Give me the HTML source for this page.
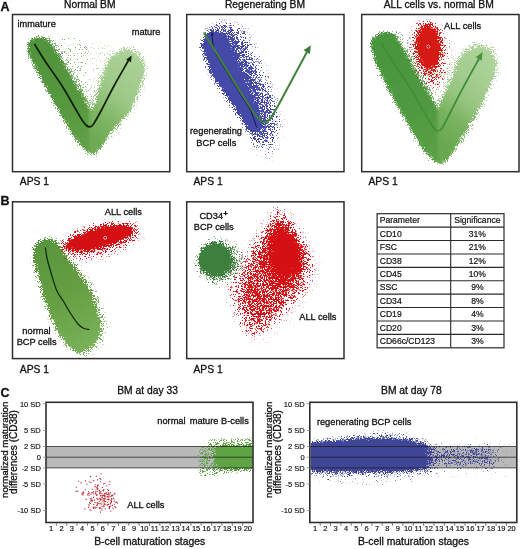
<!DOCTYPE html>
<html lang="en"><head><meta charset="utf-8"><title>Figure</title>
<style>html,body{margin:0;padding:0;background:#fff}svg{display:block}text{font-family:"Liberation Sans", Arial, Helvetica, sans-serif}</style></head>
<body>
<svg width="520" height="549" viewBox="0 0 520 549">
<rect width="520" height="549" fill="#fff"/>
<defs>
<filter id="fu" filterUnits="userSpaceOnUse" x="0" y="0" width="520" height="549" color-interpolation-filters="sRGB"><feGaussianBlur in="SourceGraphic" stdDeviation="0.7" result="b"/><feTurbulence type="fractalNoise" baseFrequency="2.43" numOctaves="1" seed="3" result="n"/><feColorMatrix in="n" type="matrix" values="0 0 0 0 1  0 0 0 0 1  0 0 0 0 1  0 0 0 1 0"/><feComponentTransfer result="na"><feFuncA type="table" tableValues="0 0 0 0.001 0.025 0.112 0.276 0.526 0.78 0.914 0.983 0.998 1 1 1"/></feComponentTransfer><feComposite in="b" in2="na" operator="arithmetic" k1="0" k2="8" k3="7" k4="-7"/></filter>
<filter id="fd" filterUnits="userSpaceOnUse" x="0" y="0" width="520" height="549" color-interpolation-filters="sRGB"><feGaussianBlur in="SourceGraphic" stdDeviation="0.8" result="b"/><feTurbulence type="fractalNoise" baseFrequency="2.37" numOctaves="1" seed="2" result="n"/><feColorMatrix in="n" type="matrix" values="0 0 0 0 1  0 0 0 0 1  0 0 0 0 1  0 0 0 1 0" result="na"/><feComposite in="b" in2="na" operator="arithmetic" k1="0" k2="6" k3="7.2" k4="-6.1"/></filter>
<filter id="fd2" filterUnits="userSpaceOnUse" x="0" y="0" width="520" height="549" color-interpolation-filters="sRGB"><feGaussianBlur in="SourceGraphic" stdDeviation="0.8" result="b"/><feTurbulence type="fractalNoise" baseFrequency="2.71" numOctaves="1" seed="7" result="n"/><feColorMatrix in="n" type="matrix" values="0 0 0 0 1  0 0 0 0 1  0 0 0 0 1  0 0 0 1 0" result="na"/><feComposite in="b" in2="na" operator="arithmetic" k1="0" k2="6" k3="7.2" k4="-6.1"/></filter>
<filter id="fdh" filterUnits="userSpaceOnUse" x="0" y="0" width="520" height="549" color-interpolation-filters="sRGB"><feGaussianBlur in="SourceGraphic" stdDeviation="0.6" result="b"/><feTurbulence type="fractalNoise" baseFrequency="2.53" numOctaves="1" seed="5" result="n"/><feColorMatrix in="n" type="matrix" values="0 0 0 0 1  0 0 0 0 1  0 0 0 0 1  0 0 0 1 0" result="na"/><feComposite in="b" in2="na" operator="arithmetic" k1="0" k2="16" k3="20.8" k4="-17.9"/></filter>
<filter id="b1" filterUnits="userSpaceOnUse" x="0" y="0" width="520" height="549"><feGaussianBlur stdDeviation="1"/></filter>
<filter id="b1_5" filterUnits="userSpaceOnUse" x="0" y="0" width="520" height="549"><feGaussianBlur stdDeviation="1.5"/></filter>
<filter id="b2" filterUnits="userSpaceOnUse" x="0" y="0" width="520" height="549"><feGaussianBlur stdDeviation="2"/></filter>
<filter id="b3" filterUnits="userSpaceOnUse" x="0" y="0" width="520" height="549"><feGaussianBlur stdDeviation="3"/></filter>
<filter id="b4" filterUnits="userSpaceOnUse" x="0" y="0" width="520" height="549"><feGaussianBlur stdDeviation="4"/></filter>
<filter id="b5" filterUnits="userSpaceOnUse" x="0" y="0" width="520" height="549"><feGaussianBlur stdDeviation="5"/></filter>
<filter id="b6" filterUnits="userSpaceOnUse" x="0" y="0" width="520" height="549"><feGaussianBlur stdDeviation="6"/></filter>
<filter id="b8" filterUnits="userSpaceOnUse" x="0" y="0" width="520" height="549"><feGaussianBlur stdDeviation="8"/></filter>
<filter id="b10" filterUnits="userSpaceOnUse" x="0" y="0" width="520" height="549"><feGaussianBlur stdDeviation="10"/></filter>
<linearGradient id="gA1" gradientUnits="userSpaceOnUse" x1="36" y1="40" x2="90" y2="150"><stop offset="0" stop-color="#50933b"/><stop offset="0.6" stop-color="#56983e"/><stop offset="1" stop-color="#62a147"/></linearGradient>
<linearGradient id="gA1r" gradientUnits="userSpaceOnUse" x1="86" y1="134" x2="140" y2="58"><stop offset="0" stop-color="#6daa52"/><stop offset="0.25" stop-color="#7db562"/><stop offset="0.5" stop-color="#9ac783"/><stop offset="0.75" stop-color="#a4cd8f"/><stop offset="1" stop-color="#acd298"/></linearGradient>
<mask id="mA1h" maskUnits="userSpaceOnUse" x="13" y="15" width="156.5" height="156"><g filter="url(#fdh)"><polygon points="37.5,37.5 43.6,38.3 49.6,43 58.8,56.5 68,71.8 80.3,93.2 90.3,111.5 95.4,107 104.6,76 110.8,59.2 118.5,55 126,50.5 133.5,52.5 139.5,58.5 143.5,65.4 142.6,76 130.5,107 111.5,129.6 100.8,146.5 93,155 85.5,150 74,135.8 49,92 38,71.2 30.3,55.8 28,46.5 30.4,41" fill="#fff" stroke="#fff" stroke-width="9" stroke-opacity="0.24" stroke-linejoin="round" filter="url(#b3)"/><polygon points="48,32 120,40 99,98 90,108" fill="#fff" fill-opacity="0.28" filter="url(#b5)"/><polygon points="44,36 52,38 62,52 73,69 86,92 92,106 86,108 80,93 68,72 58,56 49,43" fill="#fff" fill-opacity="0.2" filter="url(#b3)"/></g></mask>
<mask id="mA1" maskUnits="userSpaceOnUse" x="13" y="15" width="156.5" height="156"><g filter="url(#fu)"><polygon points="97,108 106,77 112.5,60 119,54.5 126,50 133.5,52 139,58 142.5,66 141.5,76 129.5,107 111,129 100,134 93,124" fill="#fff" stroke="#fff" stroke-width="2" filter="url(#b4)"/><polygon points="37.5,37.5 43.6,38.3 49.6,43 58.8,56.5 68,71.8 80.3,93.2 90.3,111.5 95.4,107 104.6,76 110.8,59.2 118.5,55 126,50.5 133.5,52.5 139.5,58.5 143.5,65.4 142.6,76 130.5,107 111.5,129.6 100.8,146.5 93,155 85.5,150 74,135.8 49,92 38,71.2 30.3,55.8 28,46.5 30.4,41" fill="#fff" filter="url(#b1_5)"/></g></mask>
<mask id="mA2" maskUnits="userSpaceOnUse" x="187.2" y="15" width="156" height="156"><g filter="url(#fu)"><polygon points="220,20 238,22 251,30 258,44 263,58 268,71 273.5,82 279,96 284,114 284,134 275,154 264,164 256,150 252,128 236,100 222,75 212,50 210,36" fill="#fff" fill-opacity="0.12" filter="url(#b5)"/><polygon points="214,27 227,27.5 238,34 244.5,47 249.5,61 255,74 260.5,85 266,99 270.5,115 270.5,129 265,141 259,147 252,128 236,100 222,75 212,50 210,36" fill="#fff" fill-opacity="0.75" filter="url(#b6)"/><polygon points="211,32.5 216.5,32 222,33.5 228.5,40 233,52 237.5,66 243,79 248.5,90 254,104 259.5,118 260.5,127 258,133 253,131.5 248.5,128.6 241.5,117 234,105.5 226,95.4 219.8,86 211,72.3 205.2,57.3 201.8,44.6 204,38" fill="#fff" stroke="#fff" stroke-width="6" stroke-opacity="0.3" stroke-linejoin="round" filter="url(#b1_5)"/></g></mask>
<linearGradient id="gA3" gradientUnits="userSpaceOnUse" x1="380" y1="40" x2="438" y2="155"><stop offset="0" stop-color="#48953d"/><stop offset="0.6" stop-color="#4f993f"/><stop offset="1" stop-color="#5aa045"/></linearGradient>
<linearGradient id="gA3r" gradientUnits="userSpaceOnUse" x1="434" y1="140" x2="492" y2="58"><stop offset="0" stop-color="#68a84f"/><stop offset="0.28" stop-color="#78b25e"/><stop offset="0.5" stop-color="#96c580"/><stop offset="0.72" stop-color="#a4cd8f"/><stop offset="1" stop-color="#aed39a"/></linearGradient>
<mask id="mA3h" maskUnits="userSpaceOnUse" x="362.2" y="15" width="156" height="156"><g filter="url(#fdh)"><polygon points="381,33 391.4,33 396,38.5 416.5,74.5 429,95.3 437.5,110 446.5,95.3 459.8,62 470,51 480.2,47 489.5,52 494.8,61 494.3,71 482,100.5 478.5,107 457.7,141.7 448.5,157.8 441.5,163.6 434,160 423,148.6 400,109.4 388,86.7 376,62 371.5,45.1 372.4,40" fill="#fff" stroke="#fff" stroke-width="9" stroke-opacity="0.24" stroke-linejoin="round" filter="url(#b3)"/><polygon points="394,28 470,38 449,92 438,104" fill="#fff" fill-opacity="0.28" filter="url(#b5)"/><polygon points="390,31 399,34 410,50 422,72 434,94 440,106 433,108 427,95 414,74 402,54 395,40" fill="#fff" fill-opacity="0.2" filter="url(#b3)"/></g></mask>
<mask id="mA3" maskUnits="userSpaceOnUse" x="362.2" y="15" width="156" height="156"><g filter="url(#fu)"><polygon points="447.5,96 460,60.5 470.3,49.5 480.2,45.5 489.5,50.5 494.6,60 494,71 481,100.5 477.5,107 457,141 446,146 439,128" fill="#fff" stroke="#fff" stroke-width="2" filter="url(#b4)"/><polygon points="381,33 391.4,33 396,38.5 416.5,74.5 429,95.3 437.5,110 446.5,95.3 459.8,62 470,51 480.2,47 489.5,52 494.8,61 494.3,71 482,100.5 478.5,107 457.7,141.7 448.5,157.8 441.5,163.6 434,160 423,148.6 400,109.4 388,86.7 376,62 371.5,45.1 372.4,40" fill="#fff" filter="url(#b1_5)"/></g></mask>
<mask id="mA3r" maskUnits="userSpaceOnUse" x="362.2" y="15" width="156" height="156"><g filter="url(#fu)"><g filter="url(#b5)"><ellipse cx="429.5" cy="54" rx="21" ry="36" fill="#fff" fill-opacity="0.1" transform="rotate(-6 429 52)"/></g><g filter="url(#b4)"><ellipse cx="428.8" cy="49" rx="15" ry="27" fill="#fff" fill-opacity="0.4" transform="rotate(-6 428.5 48)"/></g><ellipse cx="432.5" cy="76" rx="8" ry="13" fill="#fff" fill-opacity="0.22" filter="url(#b4)"/><g filter="url(#b2)"><ellipse cx="428.3" cy="46.5" rx="12" ry="22" fill="#fff" transform="rotate(-6 428.3 46.5)"/></g></g></mask>
<linearGradient id="gB1" gradientUnits="userSpaceOnUse" x1="40" y1="245" x2="95" y2="340"><stop offset="0" stop-color="#58963d"/><stop offset="0.5" stop-color="#669e42"/><stop offset="1" stop-color="#78b058"/></linearGradient>
<mask id="mB1" maskUnits="userSpaceOnUse" x="13" y="202.3" width="156.5" height="155.8"><g filter="url(#fu)"><polygon points="44.5,241.5 50,241.3 55.8,244 65,257.7 75.5,273 89,291.5 94.5,308 99.3,325 97.5,335 93,342 86,349 79.3,352 74.5,348.5 71,345 63,336 54.5,320 47,300 44.5,293 40.4,276 36.5,260 35.8,250 38.5,244.5" fill="#fff" stroke="#fff" stroke-width="12" stroke-opacity="0.06" stroke-linejoin="round" filter="url(#b3)"/><polygon points="60,244 72,258 84,274 97,291 104,308 107.5,326 105,340 97,350 88,356 84,346 94,326 90,306 82,288 68,266" fill="#fff" fill-opacity="0.22" filter="url(#b3)"/><polygon points="44.5,241.5 50,241.3 55.8,244 65,257.7 75.5,273 89,291.5 94.5,308 99.3,325 97.5,335 93,342 86,349 79.3,352 74.5,348.5 71,345 63,336 54.5,320 47,300 44.5,293 40.4,276 36.5,260 35.8,250 38.5,244.5" fill="#fff" stroke="#fff" stroke-width="4" stroke-opacity="0.45" stroke-linejoin="round" filter="url(#b2)"/><polygon points="44.5,241.5 50,241.3 55.8,244 65,257.7 75.5,273 89,291.5 94.5,308 99.3,325 97.5,335 93,342 86,349 79.3,352 74.5,348.5 71,345 63,336 54.5,320 47,300 44.5,293 40.4,276 36.5,260 35.8,250 38.5,244.5" fill="#fff" filter="url(#b1)"/></g></mask>
<mask id="mB1r" maskUnits="userSpaceOnUse" x="13" y="202.3" width="156.5" height="155.8"><g filter="url(#fu)"><g filter="url(#b5)"><ellipse transform="translate(99.5 237.8) rotate(-14.5)" cx="0" cy="4" rx="46" ry="20" fill="#fff" fill-opacity="0.07"/></g><g filter="url(#b4)"><ellipse transform="translate(99.5 237.8) rotate(-14.5)" cx="-1" cy="3" rx="38" ry="13" fill="#fff" fill-opacity="0.3"/></g><g filter="url(#b3)"><path transform="translate(99.5 237.8) rotate(-14.5)" d="M-35.5,0 C-26.625,-11.25 24.849999999999998,-13.049999999999999 35.5,0 C24.849999999999998,13.049999999999999 -26.625,11.25 -35.5,0Z" fill="#fff" fill-opacity="0.5" stroke="#fff" stroke-width="4" stroke-opacity="0.5" stroke-linejoin="round"/></g><g filter="url(#b1_5)"><path transform="translate(99.5 237.8) rotate(-14.5)" d="M-35.5,0 C-26.625,-11.25 24.849999999999998,-13.049999999999999 35.5,0 C24.849999999999998,13.049999999999999 -26.625,11.25 -35.5,0Z" fill="#fff"/></g></g></mask>
<radialGradient id="rgG" gradientUnits="userSpaceOnUse" cx="215" cy="259.5" r="18.5"><stop offset="0" stop-color="#fff" stop-opacity="1"/><stop offset="0.66" stop-color="#fff" stop-opacity="1"/><stop offset="0.8" stop-color="#fff" stop-opacity="0.5"/><stop offset="1" stop-color="#fff" stop-opacity="0"/></radialGradient>
<radialGradient id="rgGh" gradientUnits="userSpaceOnUse" cx="219.5" cy="261.5" r="27"><stop offset="0" stop-color="#fff" stop-opacity="0.6"/><stop offset="0.5" stop-color="#fff" stop-opacity="0.55"/><stop offset="0.7" stop-color="#fff" stop-opacity="0.44"/><stop offset="0.86" stop-color="#fff" stop-opacity="0.33"/><stop offset="1" stop-color="#fff" stop-opacity="0.12"/></radialGradient>
<mask id="mB2g" maskUnits="userSpaceOnUse" x="187.2" y="202.3" width="156" height="155.8"><g filter="url(#fd)"><ellipse cx="219.5" cy="261.5" rx="27" ry="27" fill="url(#rgGh)"/><circle cx="215" cy="259.5" r="18.5" fill="url(#rgG)"/></g></mask>
<mask id="mB2r" maskUnits="userSpaceOnUse" x="187.2" y="202.3" width="156" height="155.8"><g filter="url(#fu)"><polygon points="279,200 294,212 308,230 320,256 322,276 312,300 294,322 270,342 254,346 240,336 230,316 222,292 228,270 242,244 256,222 268,206" fill="#fff" fill-opacity="0.06" filter="url(#b5)"/><polygon points="279.3,212 287,220 294.7,230.7 305.5,255 310,264.5 304,286 288.5,304.5 267,326 256.2,332 248,329 242.4,320 233.2,292 236,282 242.4,273.8 257.8,243 270,224.5" fill="#fff" fill-opacity="0.24" stroke="#fff" stroke-width="4" stroke-opacity="0.24" stroke-linejoin="round" filter="url(#b4)"/><polygon points="279.5,218 290,231 300,254 304,265 299,283 285,301 265,320 256,325 249,318 240,293 246,277 261,247 272,229" fill="#fff" fill-opacity="0.5" filter="url(#b4)"/><polygon points="279.5,221 291,233 301,253 303,264 297,276 285,284 274,282 266,270 264,256 268,241 274,229" fill="#fff" fill-opacity="0.55" filter="url(#b3)"/><polygon points="281,225 292,235 300,247 302.5,258 297,269 287,276 277,274 270.5,264 269.5,251 273.5,238" fill="#fff" filter="url(#b4)"/></g></mask>
<mask id="mCL" maskUnits="userSpaceOnUse" x="46.8" y="403.3" width="205.5" height="118.19999999999999"><g filter="url(#fu)"><polygon points="209.0,440.1 236.0,438.5 261.0,438.0 261.0,446.5 209.0,446.5" fill="#fff" fill-opacity="0.32" filter="url(#b1_5)"/><polygon points="200.0,467.3 261.0,467.3 261.0,470.8 236.0,472.2 220.0,474.8 200.0,475.4" fill="#fff" fill-opacity="0.34" filter="url(#b1_5)"/><polygon points="200.0,446.0 220.0,446.0 220.0,467.9 200.0,467.9" fill="#fff" fill-opacity="0.42" filter="url(#b3)"/><polygon points="161.0,448.7 204.0,448.7 204.0,465.7 161.0,465.7" fill="#fff" fill-opacity="0.02"/><polygon points="215.5,445.2 261.0,444.7 261.0,468.7 215.5,468.4" fill="#fff" filter="url(#b1_5)"/></g></mask>
<mask id="mCR" maskUnits="userSpaceOnUse" x="310.6" y="403.3" width="205.49999999999994" height="118.19999999999999"><g filter="url(#fd)"><polygon points="309.8,438.0 334.8,433.7 359.8,430.5 389.8,428.9 409.8,431.6 425.8,435.8 432.8,441.2 432.8,475.4 409.8,482.8 369.8,487.1 334.8,486.0 309.8,481.8" fill="#fff" fill-opacity="0.26" filter="url(#b2)"/><polygon points="309.8,441.2 334.8,438.0 359.8,435.3 389.8,434.2 409.8,436.9 421.8,440.6 427.8,444.4 427.8,470.6 409.8,474.3 369.8,475.9 334.8,475.4 309.8,474.3" fill="#fff" fill-opacity="0.3" filter="url(#b1_5)"/><polygon points="309.8,444.4 334.8,442.2 359.8,440.4 389.8,439.6 407.8,441.7 418.8,444.4 424.3,447.1 424.3,467.3 409.8,469.2 369.8,470.6 334.8,470.3 309.8,469.5" fill="#fff" filter="url(#b1_5)"/><rect x="423.8" y="447.1" width="72" height="18.7" fill="#fff" fill-opacity="0.31" filter="url(#b2)"/><rect x="423.8" y="440.1" width="88" height="38.4" fill="#fff" fill-opacity="0.225" filter="url(#b3)"/></g></mask>
</defs>
<g mask="url(#mA1h)"><g opacity="0.72"><g filter="url(#b1_5)"><rect x="0" y="0" width="200" height="200" fill="url(#gA1r)"/><rect x="0" y="0" width="89" height="200" fill="url(#gA1)"/></g></g></g>
<g mask="url(#mA1)"><g filter="url(#b1_5)"><rect x="0" y="0" width="200" height="200" fill="url(#gA1r)"/><rect x="0" y="0" width="89" height="200" fill="url(#gA1)"/></g></g>
<path d="M34.5,44.0C36.2,46.8 40.5,54.2 45.0,61.0C49.5,67.8 56.5,77.2 61.5,85.0C66.5,92.8 71.6,102.2 75.0,108.0C78.4,113.8 80.1,117.1 82.0,120.0C83.9,122.9 85.2,124.4 86.5,125.5C87.8,126.6 88.5,126.8 89.5,126.8C90.5,126.8 91.4,126.6 92.5,125.5C93.6,124.4 94.5,122.6 96.0,120.0C97.5,117.4 98.4,115.8 101.5,110.0C104.6,104.2 109.9,93.4 114.5,85.0C119.1,76.6 126.6,63.8 129.0,59.5" fill="none" stroke="#0c1e04" stroke-width="1.7"/>
<polygon points="131.6,55.6 131.089,62.2014 126.212,59.4485" fill="#0c1e04"/>
<g mask="url(#mA2)"><rect x="186" y="14" width="160" height="160" fill="#4549a8"/></g>
<path d="M212,34 L212.8,43 C213.3,47 214.4,51 216.6,55 L238.8,91.6 L251.2,111.2 L256.8,127.5" fill="none" stroke="#17174f" stroke-width="1"/>
<polygon points="211.8,31.6 213.917,34.9718 210.541,35.3769" fill="#1b1b60"/>
<path d="M204.5,33.5C207.4,38.2 216.1,52.4 222.0,62.0C227.9,71.6 234.8,83.0 239.8,91.0C244.8,99.0 249.0,105.5 252.0,110.0C255.0,114.5 256.2,116.0 258.0,118.0C259.8,120.0 261.1,121.1 262.5,121.8C263.9,122.5 265.2,122.6 266.5,122.0C267.8,121.4 269.1,120.1 270.5,118.3C271.9,116.5 273.5,113.5 275.0,111.0C276.5,108.5 278.8,104.3 279.6,103.0L307.6,50.8" fill="none" stroke="#41823a" stroke-width="2"/>
<polygon points="310.8,45.2 309.986,53.9765 303.585,50.2629" fill="#3d7c36"/>
<polygon points="203.6,32 206.365,33.2909 203.333,35.04" fill="#41823a"/>
<g mask="url(#mA3h)"><g opacity="0.72"><g filter="url(#b1_5)"><rect x="340" y="0" width="180" height="200" fill="url(#gA3r)"/><rect x="340" y="0" width="97.5" height="200" fill="url(#gA3)"/></g></g></g>
<g mask="url(#mA3)"><g filter="url(#b1_5)"><rect x="340" y="0" width="180" height="200" fill="url(#gA3r)"/><rect x="340" y="0" width="97.5" height="200" fill="url(#gA3)"/></g></g>
<path d="M381.0,43.0C383.0,46.2 388.2,54.5 393.0,62.0C397.8,69.5 404.8,79.7 410.0,88.0C415.2,96.3 420.5,106.0 424.0,112.0C427.5,118.0 429.2,121.1 431.0,124.0C432.8,126.9 433.8,128.3 435.0,129.5C436.2,130.7 437.0,131.0 438.0,131.0C439.0,131.0 439.9,130.7 441.0,129.5C442.1,128.3 443.0,126.8 444.5,124.0C446.0,121.2 446.8,119.3 450.0,113.0C453.2,106.7 459.0,95.3 464.0,86.0C469.0,76.7 477.3,61.8 480.0,57.0" fill="none" stroke="#418c37" stroke-width="1.7"/>
<polygon points="482.6,52 481.67,60.6824 475.592,57.2095" fill="#4a953c"/>
<g mask="url(#mA3r)"><rect x="361" y="14" width="160" height="160" fill="#d51a16"/></g>
<circle cx="428.4" cy="46.6" r="2.3" fill="none" stroke="#a80c0c" stroke-width="0.5"/><circle cx="428.4" cy="46.6" r="1.55" fill="#b80808" stroke="#ffb4b4" stroke-width="1"/>
<g mask="url(#mB1)"><rect x="12" y="201" width="160" height="160" fill="url(#gB1)"/></g>
<path d="M45.3,247.6C45.6,249.3 46.2,254.3 47.0,258.0C47.8,261.7 48.6,264.7 50.2,270.0C51.8,275.3 54.4,284.9 56.5,290.0C58.6,295.1 60.8,296.8 63.0,300.5C65.2,304.2 67.5,308.6 70.0,312.5C72.5,316.4 75.7,321.3 78.0,324.0C80.3,326.7 82.1,327.6 84.0,328.5C85.9,329.4 88.6,329.3 89.5,329.5" fill="none" stroke="#0d2a06" stroke-width="1.25"/>
<g mask="url(#mB1r)"><rect x="12" y="201" width="160" height="160" fill="#d41014"/></g>
<circle cx="105.2" cy="237.8" r="2.3" fill="none" stroke="#a80c0c" stroke-width="0.5"/><circle cx="105.2" cy="237.8" r="1.55" fill="#b80808" stroke="#ffb4b4" stroke-width="1"/>
<g mask="url(#mB2g)"><rect x="186" y="201" width="160" height="160" fill="#3f7f3d"/></g>
<g mask="url(#mB2r)"><rect x="186" y="201" width="160" height="160" fill="#d41014"/></g>
<rect x="12.5" y="14.5" width="157.3" height="157.2" fill="none" stroke="#2e2e2e" stroke-width="1.5"/>
<rect x="186.7" y="14.5" width="157.3" height="157.2" fill="none" stroke="#2e2e2e" stroke-width="1.5"/>
<rect x="361.7" y="14.5" width="157.3" height="157.2" fill="none" stroke="#2e2e2e" stroke-width="1.5"/>
<rect x="12.5" y="201.8" width="157.3" height="156.8" fill="none" stroke="#2e2e2e" stroke-width="1.5"/>
<rect x="186.7" y="201.8" width="157.3" height="156.8" fill="none" stroke="#2e2e2e" stroke-width="1.5"/>
<g font-family='"Liberation Sans", Arial, Helvetica, sans-serif' fill="#111" stroke="#111" stroke-width="0.2"><rect x="377.1" y="213.7" width="126.9" height="134.1" fill="#fff" stroke="#2a2a2a" stroke-width="1.2"/><line x1="377.1" x2="504" y1="227.11" y2="227.11" stroke="#2a2a2a" stroke-width="1.1" stroke-opacity="1"/><line x1="377.1" x2="504" y1="240.52" y2="240.52" stroke="#2a2a2a" stroke-width="1.1" stroke-opacity="1"/><line x1="377.1" x2="504" y1="253.93" y2="253.93" stroke="#2a2a2a" stroke-width="1.1" stroke-opacity="1"/><line x1="377.1" x2="504" y1="267.34" y2="267.34" stroke="#2a2a2a" stroke-width="1.1" stroke-opacity="1"/><line x1="377.1" x2="504" y1="280.75" y2="280.75" stroke="#2a2a2a" stroke-width="1.1" stroke-opacity="1"/><line x1="377.1" x2="504" y1="294.16" y2="294.16" stroke="#2a2a2a" stroke-width="1.1" stroke-opacity="1"/><line x1="377.1" x2="504" y1="307.57" y2="307.57" stroke="#2a2a2a" stroke-width="1.1" stroke-opacity="1"/><line x1="377.1" x2="504" y1="320.98" y2="320.98" stroke="#2a2a2a" stroke-width="1.1" stroke-opacity="1"/><line x1="377.1" x2="504" y1="334.39" y2="334.39" stroke="#2a2a2a" stroke-width="1.1" stroke-opacity="1"/><line x1="450.7" x2="450.7" y1="213.7" y2="347.80" stroke="#2a2a2a" stroke-width="1.1" stroke-opacity="1"/><text x="379.70000000000005" y="223.40" font-size="8.6" text-anchor="start" font-weight="normal" >Parameter</text><text x="477.35" y="223.40" font-size="8.6" text-anchor="middle" font-weight="normal" >Significance</text><text x="379.70000000000005" y="236.81" font-size="8.6" text-anchor="start" font-weight="normal" >CD10</text><text x="477.35" y="236.81" font-size="8.6" text-anchor="middle" font-weight="normal" >31%</text><text x="379.70000000000005" y="250.22" font-size="8.6" text-anchor="start" font-weight="normal" >FSC</text><text x="477.35" y="250.22" font-size="8.6" text-anchor="middle" font-weight="normal" >21%</text><text x="379.70000000000005" y="263.63" font-size="8.6" text-anchor="start" font-weight="normal" >CD38</text><text x="477.35" y="263.63" font-size="8.6" text-anchor="middle" font-weight="normal" >12%</text><text x="379.70000000000005" y="277.04" font-size="8.6" text-anchor="start" font-weight="normal" >CD45</text><text x="477.35" y="277.04" font-size="8.6" text-anchor="middle" font-weight="normal" >10%</text><text x="379.70000000000005" y="290.45" font-size="8.6" text-anchor="start" font-weight="normal" >SSC</text><text x="477.35" y="290.45" font-size="8.6" text-anchor="middle" font-weight="normal" >9%</text><text x="379.70000000000005" y="303.86" font-size="8.6" text-anchor="start" font-weight="normal" >CD34</text><text x="477.35" y="303.86" font-size="8.6" text-anchor="middle" font-weight="normal" >8%</text><text x="379.70000000000005" y="317.27" font-size="8.6" text-anchor="start" font-weight="normal" >CD19</text><text x="477.35" y="317.27" font-size="8.6" text-anchor="middle" font-weight="normal" >4%</text><text x="379.70000000000005" y="330.68" font-size="8.6" text-anchor="start" font-weight="normal" >CD20</text><text x="477.35" y="330.68" font-size="8.6" text-anchor="middle" font-weight="normal" >3%</text><text x="379.70000000000005" y="344.09" font-size="8.6" text-anchor="start" font-weight="normal" >CD66c/CD123</text><text x="477.35" y="344.09" font-size="8.6" text-anchor="middle" font-weight="normal" >3%</text></g>
<rect x="46" y="446.5" width="207" height="21.4" fill="#b9b9b9"/>
<g mask="url(#mCL)"><rect x="46" y="402.3" width="207" height="120.2" fill="#5ea443"/></g>
<path d="M92.9,497.4h1.1M110.1,503.3h1.1M92.1,500.4h1.1M106.1,492.6h1.1M93.0,508.5h1.1M107.9,496.8h1.1M114.3,493.4h1.1M101.6,501.8h1.1M96.3,507.5h1.1M103.1,499.0h1.1M99.7,500.3h1.1M104.5,495.3h1.1M110.9,498.5h1.1M88.5,495.2h1.1M91.4,501.1h1.1M91.0,499.9h1.1M96.4,498.5h1.1M108.9,508.8h1.1M100.2,495.5h1.1M101.7,497.4h1.1M103.2,506.6h1.1M106.8,505.3h1.1M116.9,503.3h1.1M107.7,499.9h1.1M109.8,503.9h1.1M110.2,500.7h1.1M112.2,495.8h1.1M103.5,505.1h1.1M108.4,496.8h1.1M115.2,502.4h1.1M106.7,496.5h1.1M104.6,498.5h1.1M103.8,503.9h1.1M94.5,502.6h1.1M107.0,489.8h1.1M110.0,492.9h1.1M108.4,495.3h1.1M103.8,494.8h1.1M116.2,502.1h1.1M97.0,486.8h1.1M104.3,493.4h1.1M109.2,507.5h1.1M103.8,494.9h1.1M103.4,505.8h1.1M101.5,497.4h1.1M111.1,495.2h1.1M102.9,490.9h1.1M96.5,494.6h1.1M111.0,501.9h1.1M88.5,506.0h1.1M104.2,496.4h1.1M114.4,506.6h1.1M102.4,495.6h1.1M108.7,484.5h1.1M110.2,506.0h1.1M99.2,498.4h1.1M103.3,489.5h1.1M101.8,487.5h1.1M97.1,503.1h1.1M108.0,490.4h1.1M107.5,497.9h1.1M88.3,504.7h1.1M97.7,503.5h1.1M107.0,502.2h1.1M108.5,499.4h1.1M99.8,499.1h1.1M105.7,494.2h1.1M98.7,501.5h1.1M91.8,489.2h1.1M113.7,501.1h1.1M98.7,508.2h1.1M103.7,498.5h1.1M113.3,498.7h1.1M89.9,498.7h1.1M89.9,476.7h1.1M111.1,496.1h1.1M101.4,510.3h1.1M95.4,491.8h1.1M115.2,507.8h1.1M90.5,494.1h1.1M109.0,506.5h1.1M97.0,504.6h1.1M93.2,504.5h1.1M112.1,495.3h1.1M101.4,506.5h1.1M101.4,508.7h1.1M88.6,495.3h1.1M113.6,494.3h1.1M112.8,498.2h1.1M96.8,499.3h1.1M99.5,507.3h1.1M89.3,509.8h1.1M102.4,498.9h1.1M98.7,490.4h1.1M103.8,496.0h1.1M111.9,505.4h1.1M87.1,494.9h1.1M97.1,491.2h1.1M105.0,493.2h1.1M108.0,504.4h1.1M96.5,502.8h1.1M108.4,494.0h1.1M110.3,511.0h1.1M101.6,495.9h1.1M96.5,498.3h1.1M104.2,493.2h1.1M96.0,505.5h1.1M96.5,488.2h1.1M110.9,500.7h1.1M104.2,499.2h1.1M104.0,501.3h1.1M99.8,508.3h1.1M97.4,488.9h1.1M106.6,499.5h1.1M100.7,499.5h1.1M105.2,504.2h1.1M103.9,498.3h1.1M96.6,505.2h1.1M94.7,507.0h1.1M100.3,504.0h1.1M97.6,499.3h1.1M111.2,499.4h1.1M101.3,504.0h1.1M101.4,493.8h1.1M99.3,507.6h1.1M92.6,507.3h1.1M91.6,492.6h1.1M105.2,501.5h1.1M113.7,504.3h1.1M108.3,494.6h1.1M90.4,510.3h1.1M95.2,493.9h1.1M112.5,508.1h1.1M110.5,502.5h1.1M99.4,503.6h1.1M99.9,512.1h1.1M94.6,508.2h1.1M106.2,486.0h1.1M89.0,502.6h1.1M95.1,486.7h1.1M106.8,504.8h1.1M109.7,496.3h1.1M89.8,503.5h1.1M100.5,499.8h1.1M103.4,502.2h1.1M103.9,503.8h1.1M95.4,489.8h1.1M105.2,497.0h1.1M90.0,501.0h1.1M108.8,508.5h1.1M107.1,494.4h1.1M99.2,492.1h1.1M97.1,479.9h1.1M90.1,476.6h1.1M85.7,499.3h1.1M102.7,500.5h1.1M90.4,482.6h1.1M108.4,507.0h1.1M100.4,473.7h1.1M108.2,493.0h1.1M87.8,493.5h1.1M81.5,493.2h1.1M92.5,492.2h1.1M108.1,492.9h1.1M78.0,481.3h1.1M82.4,494.9h1.1M93.1,494.0h1.1M83.2,493.1h1.1M93.1,480.6h1.1M103.1,483.9h1.1M104.5,508.7h1.1M84.8,489.7h1.1M100.3,479.1h1.1M100.0,493.0h1.1M95.1,492.8h1.1M97.5,484.7h1.1M90.8,498.2h1.1M84.9,480.9h1.1M109.2,481.8h1.1M104.4,483.3h1.1M94.6,484.8h1.1M82.7,492.7h1.1M86.3,484.2h1.1M88.0,491.8h1.1M99.2,478.5h1.1M85.6,499.4h1.1M103.9,500.9h1.1M99.8,496.0h1.1M93.4,507.4h1.1M102.8,495.4h1.1M99.3,494.0h1.1M95.9,476.3h1.1M94.3,486.7h1.1M100.5,499.1h1.1M96.1,495.4h1.1M80.5,482.9h1.1M102.2,490.2h1.1M84.3,509.1h1.1M100.2,491.7h1.1M75.5,491.4h1.1M77.3,491.1h1.1M96.3,487.6h1.1M97.1,489.3h1.1M81.7,494.3h1.1M88.8,493.0h1.1M97.7,485.2h1.1M99.2,492.6h1.1M75.8,487.2h1.1M88.7,481.8h1.1M82.6,491.8h1.1M93.1,491.7h1.1M88.0,507.5h1.1M99.9,481.8h1.1M93.9,500.1h1.1M97.0,485.7h1.1" stroke="#c02a34" stroke-width="1.1" fill="none"/>
<line x1="46" x2="253" y1="446.5" y2="446.5" stroke="#1c1c1c" stroke-width="0.9" stroke-opacity="0.8"/>
<line x1="46" x2="253" y1="457.2" y2="457.2" stroke="#1c1c1c" stroke-width="0.9" stroke-opacity="0.8"/>
<line x1="46" x2="253" y1="467.9" y2="467.9" stroke="#1c1c1c" stroke-width="0.9" stroke-opacity="0.8"/>
<rect x="46" y="402.3" width="207" height="120.2" fill="none" stroke="#2e2e2e" stroke-width="1.6"/>
<line x1="43" x2="46" y1="403.8" y2="403.8" stroke="#888" stroke-width="0.8"/>
<line x1="43" x2="46" y1="430.5" y2="430.5" stroke="#888" stroke-width="0.8"/>
<line x1="43" x2="46" y1="446.5" y2="446.5" stroke="#888" stroke-width="0.8"/>
<line x1="43" x2="46" y1="457.2" y2="457.2" stroke="#888" stroke-width="0.8"/>
<line x1="43" x2="46" y1="467.9" y2="467.9" stroke="#888" stroke-width="0.8"/>
<line x1="43" x2="46" y1="483.9" y2="483.9" stroke="#888" stroke-width="0.8"/>
<line x1="43" x2="46" y1="510.6" y2="510.6" stroke="#888" stroke-width="0.8"/>
<line x1="56.4" x2="56.4" y1="523.3" y2="525.7" stroke="#444" stroke-width="0.8"/>
<line x1="66.7" x2="66.7" y1="523.3" y2="525.7" stroke="#444" stroke-width="0.8"/>
<line x1="77.0" x2="77.0" y1="523.3" y2="525.7" stroke="#444" stroke-width="0.8"/>
<line x1="87.4" x2="87.4" y1="523.3" y2="525.7" stroke="#444" stroke-width="0.8"/>
<line x1="97.8" x2="97.8" y1="523.3" y2="525.7" stroke="#444" stroke-width="0.8"/>
<line x1="108.1" x2="108.1" y1="523.3" y2="525.7" stroke="#444" stroke-width="0.8"/>
<line x1="118.5" x2="118.5" y1="523.3" y2="525.7" stroke="#444" stroke-width="0.8"/>
<line x1="128.8" x2="128.8" y1="523.3" y2="525.7" stroke="#444" stroke-width="0.8"/>
<line x1="139.1" x2="139.1" y1="523.3" y2="525.7" stroke="#444" stroke-width="0.8"/>
<line x1="149.5" x2="149.5" y1="523.3" y2="525.7" stroke="#444" stroke-width="0.8"/>
<line x1="159.8" x2="159.8" y1="523.3" y2="525.7" stroke="#444" stroke-width="0.8"/>
<line x1="170.2" x2="170.2" y1="523.3" y2="525.7" stroke="#444" stroke-width="0.8"/>
<line x1="180.5" x2="180.5" y1="523.3" y2="525.7" stroke="#444" stroke-width="0.8"/>
<line x1="190.9" x2="190.9" y1="523.3" y2="525.7" stroke="#444" stroke-width="0.8"/>
<line x1="201.2" x2="201.2" y1="523.3" y2="525.7" stroke="#444" stroke-width="0.8"/>
<line x1="211.6" x2="211.6" y1="523.3" y2="525.7" stroke="#444" stroke-width="0.8"/>
<line x1="221.9" x2="221.9" y1="523.3" y2="525.7" stroke="#444" stroke-width="0.8"/>
<line x1="232.3" x2="232.3" y1="523.3" y2="525.7" stroke="#444" stroke-width="0.8"/>
<line x1="242.7" x2="242.7" y1="523.3" y2="525.7" stroke="#444" stroke-width="0.8"/>
<rect x="309.8" y="446.5" width="207" height="21.4" fill="#b9b9b9"/>
<g mask="url(#mCR)"><rect x="309.8" y="402.3" width="207" height="120.2" fill="#3f4597"/></g>
<line x1="309.8" x2="516.8" y1="446.5" y2="446.5" stroke="#1c1c1c" stroke-width="0.9" stroke-opacity="0.8"/>
<line x1="309.8" x2="516.8" y1="457.2" y2="457.2" stroke="#1c1c1c" stroke-width="0.9" stroke-opacity="0.8"/>
<line x1="309.8" x2="516.8" y1="467.9" y2="467.9" stroke="#1c1c1c" stroke-width="0.9" stroke-opacity="0.8"/>
<rect x="309.8" y="402.3" width="207" height="120.2" fill="none" stroke="#2e2e2e" stroke-width="1.6"/>
<line x1="306.8" x2="309.8" y1="403.8" y2="403.8" stroke="#888" stroke-width="0.8"/>
<line x1="306.8" x2="309.8" y1="430.5" y2="430.5" stroke="#888" stroke-width="0.8"/>
<line x1="306.8" x2="309.8" y1="446.5" y2="446.5" stroke="#888" stroke-width="0.8"/>
<line x1="306.8" x2="309.8" y1="457.2" y2="457.2" stroke="#888" stroke-width="0.8"/>
<line x1="306.8" x2="309.8" y1="467.9" y2="467.9" stroke="#888" stroke-width="0.8"/>
<line x1="306.8" x2="309.8" y1="483.9" y2="483.9" stroke="#888" stroke-width="0.8"/>
<line x1="306.8" x2="309.8" y1="510.6" y2="510.6" stroke="#888" stroke-width="0.8"/>
<line x1="320.2" x2="320.2" y1="523.3" y2="525.7" stroke="#444" stroke-width="0.8"/>
<line x1="330.5" x2="330.5" y1="523.3" y2="525.7" stroke="#444" stroke-width="0.8"/>
<line x1="340.9" x2="340.9" y1="523.3" y2="525.7" stroke="#444" stroke-width="0.8"/>
<line x1="351.2" x2="351.2" y1="523.3" y2="525.7" stroke="#444" stroke-width="0.8"/>
<line x1="361.6" x2="361.6" y1="523.3" y2="525.7" stroke="#444" stroke-width="0.8"/>
<line x1="371.9" x2="371.9" y1="523.3" y2="525.7" stroke="#444" stroke-width="0.8"/>
<line x1="382.2" x2="382.2" y1="523.3" y2="525.7" stroke="#444" stroke-width="0.8"/>
<line x1="392.6" x2="392.6" y1="523.3" y2="525.7" stroke="#444" stroke-width="0.8"/>
<line x1="402.9" x2="402.9" y1="523.3" y2="525.7" stroke="#444" stroke-width="0.8"/>
<line x1="413.3" x2="413.3" y1="523.3" y2="525.7" stroke="#444" stroke-width="0.8"/>
<line x1="423.6" x2="423.6" y1="523.3" y2="525.7" stroke="#444" stroke-width="0.8"/>
<line x1="434.0" x2="434.0" y1="523.3" y2="525.7" stroke="#444" stroke-width="0.8"/>
<line x1="444.4" x2="444.4" y1="523.3" y2="525.7" stroke="#444" stroke-width="0.8"/>
<line x1="454.7" x2="454.7" y1="523.3" y2="525.7" stroke="#444" stroke-width="0.8"/>
<line x1="465.0" x2="465.0" y1="523.3" y2="525.7" stroke="#444" stroke-width="0.8"/>
<line x1="475.4" x2="475.4" y1="523.3" y2="525.7" stroke="#444" stroke-width="0.8"/>
<line x1="485.8" x2="485.8" y1="523.3" y2="525.7" stroke="#444" stroke-width="0.8"/>
<line x1="496.1" x2="496.1" y1="523.3" y2="525.7" stroke="#444" stroke-width="0.8"/>
<line x1="506.4" x2="506.4" y1="523.3" y2="525.7" stroke="#444" stroke-width="0.8"/>
<g font-family='"Liberation Sans", Arial, Helvetica, sans-serif' fill="#111" stroke="#111" stroke-width="0.3"><text x="0.6" y="10.7" font-size="12.5" text-anchor="start" font-weight="bold" >A</text><text x="0.6" y="204.8" font-size="12.5" text-anchor="start" font-weight="bold" >B</text><text x="0.5" y="397.4" font-size="12.5" text-anchor="start" font-weight="bold" >C</text><text x="89.8" y="7.8" font-size="10.3" text-anchor="middle" font-weight="normal" >Normal BM</text><text x="265" y="7.8" font-size="10.3" text-anchor="middle" font-weight="normal" >Regenerating BM</text><text x="438.7" y="7.8" font-size="10.3" text-anchor="middle" font-weight="normal" >ALL cells vs. normal BM</text><text x="19.8" y="185.3" font-size="10.3" text-anchor="start" font-weight="normal" >APS 1</text><text x="193.5" y="185.3" font-size="10.3" text-anchor="start" font-weight="normal" >APS 1</text><text x="368.5" y="185.3" font-size="10.3" text-anchor="start" font-weight="normal" >APS 1</text><text x="19.8" y="372.9" font-size="10.3" text-anchor="start" font-weight="normal" >APS 1</text><text x="193.5" y="372.9" font-size="10.3" text-anchor="start" font-weight="normal" >APS 1</text><text x="17.5" y="26.7" font-size="9.2" text-anchor="start" font-weight="normal" >immature</text><text x="131.7" y="34.8" font-size="9.25" text-anchor="start" font-weight="normal" >mature</text><text x="216" y="134.4" font-size="9.25" text-anchor="middle" font-weight="normal" >regenerating</text><text x="216.3" y="145.6" font-size="9.25" text-anchor="middle" font-weight="normal" >BCP cells</text><text x="444" y="29.2" font-size="9.25" text-anchor="start" font-weight="normal" >ALL cells</text><text x="104.8" y="215" font-size="9.25" text-anchor="start" font-weight="normal" >ALL cells</text><text x="36.5" y="334.1" font-size="9.25" text-anchor="middle" font-weight="normal" >normal</text><text x="36.6" y="345.4" font-size="9.25" text-anchor="middle" font-weight="normal" >BCP cells</text><text x="199.4" y="218.7" font-size="9.25" text-anchor="start" font-weight="normal" >CD34<tspan font-size="7.2" font-weight="bold" dx="0.4" dy="-2.4">+</tspan></text><text x="213.7" y="229.9" font-size="9.25" text-anchor="middle" font-weight="normal" >BCP cells</text><text x="299.3" y="320" font-size="9.25" text-anchor="start" font-weight="normal" >ALL cells</text><text x="40.8" y="406.5" font-size="7.5" text-anchor="end" font-weight="normal" stroke-width="0.15">10 SD</text><text x="40.8" y="433.2" font-size="7.5" text-anchor="end" font-weight="normal" stroke-width="0.15">5 SD</text><text x="40.8" y="449.2" font-size="7.5" text-anchor="end" font-weight="normal" stroke-width="0.15">2 SD</text><text x="40.8" y="459.9" font-size="7.5" text-anchor="end" font-weight="normal" stroke-width="0.15">0</text><text x="40.8" y="470.6" font-size="7.5" text-anchor="end" font-weight="normal" stroke-width="0.15">-2 SD</text><text x="40.8" y="486.6" font-size="7.5" text-anchor="end" font-weight="normal" stroke-width="0.15">-5 SD</text><text x="40.8" y="513.3" font-size="7.5" text-anchor="end" font-weight="normal" stroke-width="0.15">-10 SD</text><text x="51.2" y="530.8" font-size="7.5" text-anchor="middle" font-weight="normal" stroke-width="0.15">1</text><text x="61.5" y="530.8" font-size="7.5" text-anchor="middle" font-weight="normal" stroke-width="0.15">2</text><text x="71.9" y="530.8" font-size="7.5" text-anchor="middle" font-weight="normal" stroke-width="0.15">3</text><text x="82.2" y="530.8" font-size="7.5" text-anchor="middle" font-weight="normal" stroke-width="0.15">4</text><text x="92.6" y="530.8" font-size="7.5" text-anchor="middle" font-weight="normal" stroke-width="0.15">5</text><text x="102.9" y="530.8" font-size="7.5" text-anchor="middle" font-weight="normal" stroke-width="0.15">6</text><text x="113.3" y="530.8" font-size="7.5" text-anchor="middle" font-weight="normal" stroke-width="0.15">7</text><text x="123.6" y="530.8" font-size="7.5" text-anchor="middle" font-weight="normal" stroke-width="0.15">8</text><text x="134.0" y="530.8" font-size="7.5" text-anchor="middle" font-weight="normal" stroke-width="0.15">9</text><text x="144.3" y="530.8" font-size="7.5" text-anchor="middle" font-weight="normal" stroke-width="0.15">10</text><text x="154.7" y="530.8" font-size="7.5" text-anchor="middle" font-weight="normal" stroke-width="0.15">11</text><text x="165.0" y="530.8" font-size="7.5" text-anchor="middle" font-weight="normal" stroke-width="0.15">12</text><text x="175.4" y="530.8" font-size="7.5" text-anchor="middle" font-weight="normal" stroke-width="0.15">13</text><text x="185.7" y="530.8" font-size="7.5" text-anchor="middle" font-weight="normal" stroke-width="0.15">14</text><text x="196.1" y="530.8" font-size="7.5" text-anchor="middle" font-weight="normal" stroke-width="0.15">15</text><text x="206.4" y="530.8" font-size="7.5" text-anchor="middle" font-weight="normal" stroke-width="0.15">16</text><text x="216.8" y="530.8" font-size="7.5" text-anchor="middle" font-weight="normal" stroke-width="0.15">17</text><text x="227.1" y="530.8" font-size="7.5" text-anchor="middle" font-weight="normal" stroke-width="0.15">18</text><text x="237.5" y="530.8" font-size="7.5" text-anchor="middle" font-weight="normal" stroke-width="0.15">19</text><text x="247.8" y="530.8" font-size="7.5" text-anchor="middle" font-weight="normal" stroke-width="0.15">20</text><text x="94.2" y="545.3" font-size="10.35" text-anchor="start" font-weight="normal" >B-cell maturation stages</text><text transform="translate(8.2 449.8) rotate(-90)" font-size="9.75" text-anchor="middle">normalized maturation</text><text transform="translate(17.0 452) rotate(-90)" font-size="10" text-anchor="middle">differences (CD38)</text><text x="304.6" y="406.5" font-size="7.5" text-anchor="end" font-weight="normal" stroke-width="0.15">10 SD</text><text x="304.6" y="433.2" font-size="7.5" text-anchor="end" font-weight="normal" stroke-width="0.15">5 SD</text><text x="304.6" y="449.2" font-size="7.5" text-anchor="end" font-weight="normal" stroke-width="0.15">2 SD</text><text x="304.6" y="459.9" font-size="7.5" text-anchor="end" font-weight="normal" stroke-width="0.15">0</text><text x="304.6" y="470.6" font-size="7.5" text-anchor="end" font-weight="normal" stroke-width="0.15">-2 SD</text><text x="304.6" y="486.6" font-size="7.5" text-anchor="end" font-weight="normal" stroke-width="0.15">-5 SD</text><text x="304.6" y="513.3" font-size="7.5" text-anchor="end" font-weight="normal" stroke-width="0.15">-10 SD</text><text x="315.0" y="530.8" font-size="7.5" text-anchor="middle" font-weight="normal" stroke-width="0.15">1</text><text x="325.3" y="530.8" font-size="7.5" text-anchor="middle" font-weight="normal" stroke-width="0.15">2</text><text x="335.7" y="530.8" font-size="7.5" text-anchor="middle" font-weight="normal" stroke-width="0.15">3</text><text x="346.0" y="530.8" font-size="7.5" text-anchor="middle" font-weight="normal" stroke-width="0.15">4</text><text x="356.4" y="530.8" font-size="7.5" text-anchor="middle" font-weight="normal" stroke-width="0.15">5</text><text x="366.7" y="530.8" font-size="7.5" text-anchor="middle" font-weight="normal" stroke-width="0.15">6</text><text x="377.1" y="530.8" font-size="7.5" text-anchor="middle" font-weight="normal" stroke-width="0.15">7</text><text x="387.4" y="530.8" font-size="7.5" text-anchor="middle" font-weight="normal" stroke-width="0.15">8</text><text x="397.8" y="530.8" font-size="7.5" text-anchor="middle" font-weight="normal" stroke-width="0.15">9</text><text x="408.1" y="530.8" font-size="7.5" text-anchor="middle" font-weight="normal" stroke-width="0.15">10</text><text x="418.5" y="530.8" font-size="7.5" text-anchor="middle" font-weight="normal" stroke-width="0.15">11</text><text x="428.8" y="530.8" font-size="7.5" text-anchor="middle" font-weight="normal" stroke-width="0.15">12</text><text x="439.2" y="530.8" font-size="7.5" text-anchor="middle" font-weight="normal" stroke-width="0.15">13</text><text x="449.5" y="530.8" font-size="7.5" text-anchor="middle" font-weight="normal" stroke-width="0.15">14</text><text x="459.9" y="530.8" font-size="7.5" text-anchor="middle" font-weight="normal" stroke-width="0.15">15</text><text x="470.2" y="530.8" font-size="7.5" text-anchor="middle" font-weight="normal" stroke-width="0.15">16</text><text x="480.6" y="530.8" font-size="7.5" text-anchor="middle" font-weight="normal" stroke-width="0.15">17</text><text x="490.9" y="530.8" font-size="7.5" text-anchor="middle" font-weight="normal" stroke-width="0.15">18</text><text x="501.3" y="530.8" font-size="7.5" text-anchor="middle" font-weight="normal" stroke-width="0.15">19</text><text x="511.6" y="530.8" font-size="7.5" text-anchor="middle" font-weight="normal" stroke-width="0.15">20</text><text x="358.0" y="545.3" font-size="10.35" text-anchor="start" font-weight="normal" >B-cell maturation stages</text><text transform="translate(272.0 449.8) rotate(-90)" font-size="9.75" text-anchor="middle">normalized maturation</text><text transform="translate(280.8 452) rotate(-90)" font-size="10" text-anchor="middle">differences (CD38)</text><text x="147.6" y="394.4" font-size="10.3" text-anchor="middle" font-weight="normal" >BM at day 33</text><text x="411.4" y="394.4" font-size="10.3" text-anchor="middle" font-weight="normal" >BM at day 78</text><text x="157.3" y="423.8" font-size="9.25" text-anchor="start" font-weight="normal" >normal</text><text x="189.7" y="423.8" font-size="9.25" text-anchor="start" font-weight="normal" >mature B-cells</text><text x="127.3" y="507.5" font-size="9.25" text-anchor="start" font-weight="normal" >ALL cells</text><text x="316.9" y="425.4" font-size="9.25" text-anchor="start" font-weight="normal" >regenerating BCP cells</text></g>
</svg>
</body></html>
